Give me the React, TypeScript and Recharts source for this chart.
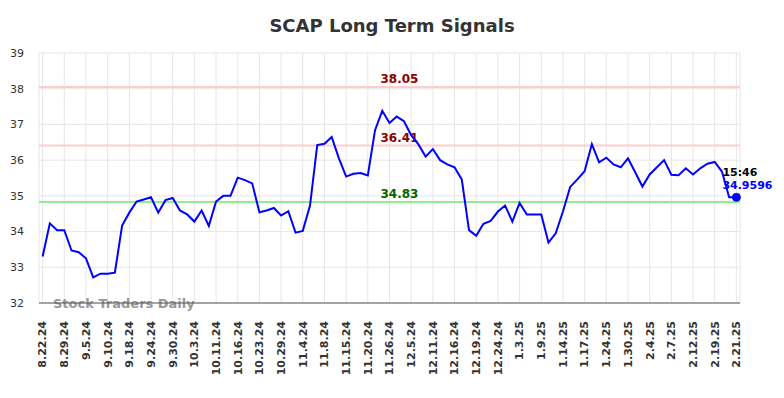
import React from "react";
import {
  LineChart,
  Line,
  XAxis,
  YAxis,
  CartesianGrid,
  ReferenceLine,
  ReferenceDot,
} from "recharts";

const BLUE = "#0000ff";
const GRID = "#e6e6e6";
const TEXT = "#333333";

// tick labels, one every 3rd session
const tickLabels = [
  "8.22.24", "8.29.24", "9.5.24", "9.10.24", "9.18.24", "9.24.24", "9.30.24",
  "10.3.24", "10.11.24", "10.16.24", "10.23.24", "10.29.24", "11.4.24", "11.8.24",
  "11.15.24", "11.20.24", "11.26.24", "12.5.24", "12.11.24", "12.16.24", "12.19.24",
  "12.24.24", "1.3.25", "1.9.25", "1.14.25", "1.17.25", "1.24.25", "1.30.25",
  "2.4.25", "2.7.25", "2.12.25", "2.19.25", "2.21.25",
];

const prices = [
  33.30, 34.23, 34.04, 34.04, 33.47, 33.42, 33.25, 32.72, 32.82, 32.82,
  32.85, 34.17, 34.53, 34.84, 34.90, 34.96, 34.53, 34.88, 34.94, 34.59,
  34.48, 34.28, 34.59, 34.16, 34.84, 35.00, 35.00, 35.51, 35.44, 35.35,
  34.54, 34.59, 34.66, 34.45, 34.57, 33.97, 34.02, 34.73, 36.42, 36.46,
  36.65, 36.05, 35.54, 35.62, 35.64, 35.57, 36.84, 37.38, 37.04, 37.22,
  37.09, 36.70, 36.44, 36.10, 36.31, 36.00, 35.88, 35.80, 35.46, 34.04,
  33.88, 34.22, 34.30, 34.56, 34.73, 34.28, 34.80, 34.48, 34.48, 34.48,
  33.69, 33.95, 34.56, 35.25, 35.46, 35.69, 36.45, 35.94, 36.07, 35.88,
  35.80, 36.05, 35.66, 35.26, 35.60, 35.80, 36.00, 35.59, 35.58, 35.77,
  35.60, 35.77, 35.90, 35.95, 35.68, 34.96, 34.9596,
];

const yTicks = [32, 33, 34, 35, 36, 37, 38, 39];

const signals = [
  { value: 38.05, stroke: "#ffcccc", color: "#8b0000" },
  { value: 36.41, stroke: "#ffcccc", color: "#8b0000" },
  { value: 34.83, stroke: "#90ee90", color: "#006400" },
];

const lastTime = "15:46";

const data = prices.map((p, i) => ({ i, price: p }));
const xTicks = tickLabels.map((_, k) => k * 3);
const last = data[data.length - 1];

function DateTick({ x, y, payload }: any) {
  const label = tickLabels[Math.round(payload.value / 3)];
  return (
    <text
      transform={`translate(${x},${y + 18}) rotate(-90)`}
      textAnchor="end"
      dy="0.35em"
      fontSize={11}
      fontWeight="bold"
      fill={TEXT}
      fontFamily="DejaVu Sans"
    >
      {label}
    </text>
  );
}

function SignalLabel({ viewBox, text, color }: any) {
  if (!viewBox) return null;
  const { x, y, width } = viewBox;
  return (
    <text
      x={x + width / 2 + 10}
      y={y - 4}
      textAnchor="middle"
      fontSize={12}
      fontWeight="bold"
      fill={color}
      fontFamily="DejaVu Sans"
    >
      {text}
    </text>
  );
}

function LastLabel({ viewBox }: any) {
  if (!viewBox) return null;
  const cx = viewBox.cx ?? viewBox.x + (viewBox.width || 0) / 2;
  const cy = viewBox.cy ?? viewBox.y + (viewBox.height || 0) / 2;
  return (
    <g fontFamily="DejaVu Sans" fontSize={11} fontWeight="bold">
      <text x={cx - 14} y={cy - 21} fill="#000">{lastTime}</text>
      <text x={cx - 14} y={cy - 8} fill={BLUE}>{last.price}</text>
    </g>
  );
}

export default function App() {
  return (
    <div style={{ position: "absolute", left: 0, top: 0, background: "#fff" }}>
      <LineChart
        width={784}
        height={398}
        data={data}
        margin={{ top: 53, right: 44, bottom: 0, left: 0 }}
      >
        <text
          x={392}
          y={32}
          textAnchor="middle"
          fontSize={18}
          fontWeight="bold"
          fill={TEXT}
          fontFamily="DejaVu Sans"
        >
          SCAP Long Term Signals
        </text>
        <CartesianGrid stroke={GRID} strokeWidth={1} />
        <XAxis
          type="number"
          dataKey="i"
          domain={[-0.5, 96.5]}
          ticks={xTicks}
          interval={0}
          height={95}
          tickLine={false}
          tickSize={0}
          tickMargin={0}
          axisLine={{ stroke: "#555555", strokeWidth: 1 }}
          tick={<DateTick />}
        />
        <YAxis
          domain={[32, 39]}
          ticks={yTicks}
          width={39}
          axisLine={false}
          tickLine={false}
          tickMargin={15}
          tickSize={0}
          tick={{ fontSize: 11, fill: TEXT, fontFamily: "DejaVu Sans" }}
        />
        {signals.map((s) => (
          <ReferenceLine
            key={s.value}
            y={s.value}
            stroke={s.stroke}
            strokeWidth={2}
            label={<SignalLabel text={s.value.toFixed(2)} color={s.color} />}
          />
        ))}
        <text
          x={53}
          y={308}
          fontSize={13}
          fontWeight="bold"
          fill="#999999"
          fontFamily="DejaVu Sans"
        >
          Stock Traders Daily
        </text>
        <Line
          type="linear"
          dataKey="price"
          stroke={BLUE}
          strokeWidth={2}
          dot={false}
          activeDot={false}
          isAnimationActive={false}
        />
        <ReferenceDot
          x={last.i}
          y={last.price}
          r={4}
          fill={BLUE}
          stroke={BLUE}
          label={<LastLabel />}
        />
      </LineChart>
    </div>
  );
}
